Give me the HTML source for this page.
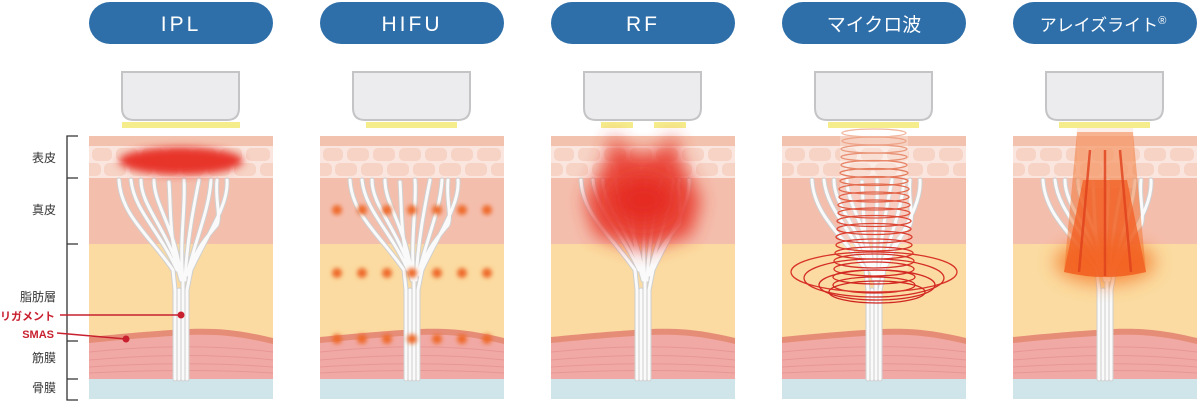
<!DOCTYPE html>
<html><head><meta charset="utf-8"><style>
html,body{margin:0;padding:0;background:#fff;width:1200px;height:403px;overflow:hidden}
svg{display:block}
text{font-family:"Liberation Sans","Noto Sans CJK JP",sans-serif}
</style></head><body>
<svg width="1200" height="403" viewBox="0 0 1200 403" xmlns="http://www.w3.org/2000/svg">
<defs>
<clipPath id="pc"><rect x="0" y="0" width="184" height="403"/></clipPath>
<filter id="b4" x="-50%" y="-50%" width="200%" height="200%"><feGaussianBlur stdDeviation="4"/></filter>
<filter id="b8" x="-50%" y="-50%" width="200%" height="200%"><feGaussianBlur stdDeviation="9"/></filter>
<filter id="b2" x="-50%" y="-50%" width="200%" height="200%"><feGaussianBlur stdDeviation="2"/></filter>
<g id="skin">
 <g clip-path="url(#pc)">
  <rect x="0" y="136" width="184" height="10" fill="#f3c2ae"/>
  <rect x="0" y="146" width="184" height="32" fill="#fae6de"/>
  <g fill="#f6d3c5">
    <rect x="3" y="148" width="20" height="13" rx="5"/><rect x="27" y="148" width="22" height="13" rx="5"/><rect x="53" y="148" width="22" height="13" rx="5"/><rect x="79" y="148" width="22" height="13" rx="5"/><rect x="105" y="148" width="22" height="13" rx="5"/><rect x="131" y="148" width="22" height="13" rx="5"/><rect x="157" y="148" width="24" height="13" rx="5"/>
    <rect x="-6" y="163" width="18" height="13" rx="5"/><rect x="15" y="163" width="22" height="13" rx="5"/><rect x="41" y="163" width="22" height="13" rx="5"/><rect x="67" y="163" width="22" height="13" rx="5"/><rect x="93" y="163" width="22" height="13" rx="5"/><rect x="119" y="163" width="22" height="13" rx="5"/><rect x="145" y="163" width="22" height="13" rx="5"/><rect x="171" y="163" width="18" height="13" rx="5"/>
  </g>
  <rect x="0" y="178" width="184" height="66" fill="#f4bead"/>
  <rect x="0" y="244" width="184" height="100" fill="#fbdba1"/>
  <path d="M0 337 C50 332 80 330 100 329 C130 328 150 330 184 338 L184 379 L0 379Z" fill="#e68d78"/>
  <path d="M0 343 C50 338 80 336 100 335 C130 334 150 336 184 344 L184 379 L0 379Z" fill="#f1a9a5"/>
  <g stroke="#e79795" stroke-width="1" fill="none">
    <path d="M0 352 C60 346 120 344 184 352"/><path d="M0 360 C60 355 120 353 184 360"/><path d="M0 367 C60 363 120 362 184 367"/><path d="M0 373 C60 370 120 369 184 373"/>
  </g>
  <rect x="0" y="379" width="184" height="20" fill="#cfe5ea"/>
 </g>
</g>
<g id="fib">
  <path d="M30 180 C32 215 60 235 84 270 L86 290 L86 379 M42 180 C45 210 70 230 88 270 M52 180 C52 205 75 225 90 270 M65 180 C65 205 85 225 92 275 M80 182 C82 210 80 240 92 280 M95 180 C97 205 90 240 94 280 L94 379 M110 180 C105 205 98 240 96 280 M122 180 C120 210 108 235 98 275 M128 180 C126 200 132 215 128 225 C115 240 103 255 100 275 M138 180 C140 205 118 235 102 270 L98 290 L98 379 M90 290 L90 379" stroke="#cfcfcf" stroke-width="5" fill="none" stroke-linecap="round"/>
  <path d="M30 180 C32 215 60 235 84 270 L86 290 L86 379 M42 180 C45 210 70 230 88 270 M52 180 C52 205 75 225 90 270 M65 180 C65 205 85 225 92 275 M80 182 C82 210 80 240 92 280 M95 180 C97 205 90 240 94 280 L94 379 M110 180 C105 205 98 240 96 280 M122 180 C120 210 108 235 98 275 M128 180 C126 200 132 215 128 225 C115 240 103 255 100 275 M138 180 C140 205 118 235 102 270 L98 290 L98 379 M90 290 L90 379" stroke="#fafafa" stroke-width="3" fill="none" stroke-linecap="round"/>
</g>
<g id="dev">
  <path d="M33 72 L150 72 L150 108 Q150 120 138 120 L45 120 Q33 120 33 108Z" fill="#ececee" stroke="#c4c4c6" stroke-width="2"/>
</g>
</defs>

<g fill="#2f6fa9">
<rect x="89" y="2" width="184" height="42" rx="21"/>
<rect x="320" y="2" width="184" height="42" rx="21"/>
<rect x="551" y="2" width="184" height="42" rx="21"/>
<rect x="782" y="2" width="184" height="42" rx="21"/>
<rect x="1013" y="2" width="184" height="42" rx="21"/>
</g>
<g fill="#fff" font-size="21" text-anchor="middle">
<text x="181" y="31" letter-spacing="3">IPL</text>
<text x="412" y="31" letter-spacing="3">HIFU</text>
<text x="643" y="31" letter-spacing="3">RF</text>
<text x="874" y="31" font-size="19">マイクロ波</text>
<text x="1103" y="31" font-size="17">アレイズライト<tspan font-size="11" dy="-7">®</tspan></text>
</g>

<g transform="translate(89,0)"><use href="#skin"/><use href="#fib"/><use href="#dev"/><rect x="33" y="122" width="118" height="6" fill="#f5ec8c"/>
  <ellipse cx="92" cy="161" rx="62" ry="14" fill="#e8362a" filter="url(#b4)"/>
</g>
<g transform="translate(320,0)"><use href="#skin"/><use href="#fib"/><use href="#dev"/><rect x="46" y="122" width="91" height="6" fill="#f5ec8c"/>
  <g fill="#ee6a2a" filter="url(#b2)">
    <circle cx="17" cy="210" r="5"/><circle cx="42" cy="210" r="5"/><circle cx="67" cy="210" r="5"/><circle cx="92" cy="210" r="5"/><circle cx="117" cy="210" r="5"/><circle cx="142" cy="210" r="5"/><circle cx="167" cy="210" r="5"/>
    <circle cx="17" cy="273" r="5"/><circle cx="42" cy="273" r="5"/><circle cx="67" cy="273" r="5"/><circle cx="92" cy="273" r="5"/><circle cx="117" cy="273" r="5"/><circle cx="142" cy="273" r="5"/><circle cx="167" cy="273" r="5"/>
    <circle cx="17" cy="339" r="5"/><circle cx="42" cy="339" r="5"/><circle cx="67" cy="339" r="5"/><circle cx="92" cy="339" r="5"/><circle cx="117" cy="339" r="5"/><circle cx="142" cy="339" r="5"/><circle cx="167" cy="339" r="5"/>
  </g>
</g>
<g transform="translate(551,0)"><use href="#skin"/><use href="#fib"/><use href="#dev"/>
  <rect x="50" y="122" width="32" height="6" fill="#f5ec8c"/><rect x="103" y="122" width="32" height="6" fill="#f5ec8c"/>
  <g filter="url(#b8)" opacity="0.9">
    <path d="M62 132 C70 160 115 160 122 132 L130 160 L150 200 L140 235 L92 250 L44 235 L34 200 L55 160Z" fill="#e8382c"/>
  </g>
  <ellipse cx="92" cy="200" rx="30" ry="22" fill="#e52a22" filter="url(#b8)"/>
</g>
<g transform="translate(782,0)"><use href="#skin"/><use href="#fib"/><use href="#dev"/><rect x="46" y="122" width="91" height="6" fill="#f5ec8c"/>
  <rect x="58" y="130" width="68" height="140" fill="#fff" opacity="0.25"/>
  <g fill="none" stroke-width="1.3">
    <ellipse cx="92" cy="133" rx="32" ry="4" stroke="#f2b8a0"/>
    <ellipse cx="92" cy="141" rx="32" ry="4" stroke="#eea58a"/>
    <ellipse cx="92" cy="149" rx="33" ry="4" stroke="#eb9a7e"/>
    <ellipse cx="92" cy="157" rx="33" ry="4" stroke="#e98f72"/>
    <ellipse cx="92" cy="165" rx="33" ry="4.5" stroke="#e88668"/>
    <ellipse cx="92" cy="173" rx="34" ry="4.5" stroke="#e67c5e"/>
    <ellipse cx="92" cy="181" rx="34" ry="4.5" stroke="#e57356"/>
    <ellipse cx="92" cy="189" rx="35" ry="5" stroke="#e36a4e"/>
    <ellipse cx="92" cy="197" rx="35" ry="5" stroke="#e26248"/>
    <ellipse cx="92" cy="205" rx="36" ry="5" stroke="#e05a42"/>
    <ellipse cx="92" cy="213" rx="36" ry="5" stroke="#df523c"/>
    <ellipse cx="92" cy="221" rx="37" ry="5.5" stroke="#dd4a38"/>
    <ellipse cx="92" cy="229" rx="37" ry="5.5" stroke="#dc4434"/>
    <ellipse cx="92" cy="237" rx="38" ry="6" stroke="#da3e30"/>
    <ellipse cx="92" cy="245" rx="38" ry="6" stroke="#d9382c"/>
    <ellipse cx="92" cy="253" rx="39" ry="6" stroke="#d8342a"/>
    <ellipse cx="92" cy="261" rx="40" ry="7" stroke="#d63028"/>
    <ellipse cx="92" cy="269" rx="40" ry="7" stroke="#d52c26"/>
    <ellipse cx="92" cy="277" rx="41" ry="7" stroke="#d42a25"/>
    <ellipse cx="92" cy="285" rx="41" ry="8" stroke="#d32824"/>
    <ellipse cx="92" cy="272" rx="83" ry="20" stroke="#d8342a"/>
    <ellipse cx="92" cy="278" rx="70" ry="19" stroke="#d42c26"/>
    <ellipse cx="95" cy="285" rx="58" ry="15" stroke="#d22824"/>
    <ellipse cx="95" cy="292" rx="48" ry="11" stroke="#d02622"/>
  </g>
</g>
<g transform="translate(1013,0)"><use href="#skin"/><use href="#fib"/><use href="#dev"/><rect x="46" y="122" width="91" height="6" fill="#f5ec8c"/>
  <rect x="64" y="128" width="56" height="60" fill="#fbe2d8" opacity="0.5"/>
  <ellipse cx="92" cy="262" rx="50" ry="22" fill="#f47a2a" filter="url(#b8)" opacity="0.8"/>
  <path d="M64 132 L120 132 L133 272 Q92 282 51 272Z" fill="#f26a22" opacity="0.45"/>
  <path d="M70 180 L114 180 L133 272 Q92 282 51 272Z" fill="#f25a1c" opacity="0.7"/>
  <g stroke="#e0401c" stroke-width="2.5" opacity="0.8">
    <line x1="77" y1="150" x2="66" y2="272"/><line x1="92" y1="150" x2="92" y2="276"/><line x1="107" y1="150" x2="118" y2="272"/>
  </g>
</g>

<g stroke="#333" stroke-width="1.3" fill="none">
  <path d="M78 136 H67 V400 H78 M67 178 H78 M67 244 H78 M67 341 H78 M67 379 H78"/>
</g>
<g font-size="12" fill="#333" text-anchor="end">
<text x="56" y="162">表皮</text>
<text x="56" y="214">真皮</text>
<text x="56" y="301">脂肪層</text>
<text x="56" y="362">筋膜</text>
<text x="56" y="392">骨膜</text>
</g>
<g fill="#c8202f" font-weight="bold">
  <text x="0" y="320" font-size="11" textLength="55" lengthAdjust="spacingAndGlyphs">リガメント</text>
  <text x="54" y="338" font-size="11" text-anchor="end">SMAS</text>
</g>
<g stroke="#c8202f" stroke-width="1.5" fill="#c8202f">
  <line x1="60" y1="315" x2="181" y2="315"/><circle cx="181" cy="315" r="3.5" stroke="none"/>
  <line x1="57" y1="333" x2="126" y2="339"/><circle cx="126" cy="339" r="3.5" stroke="none"/>
</g>
</svg>
</body></html>
